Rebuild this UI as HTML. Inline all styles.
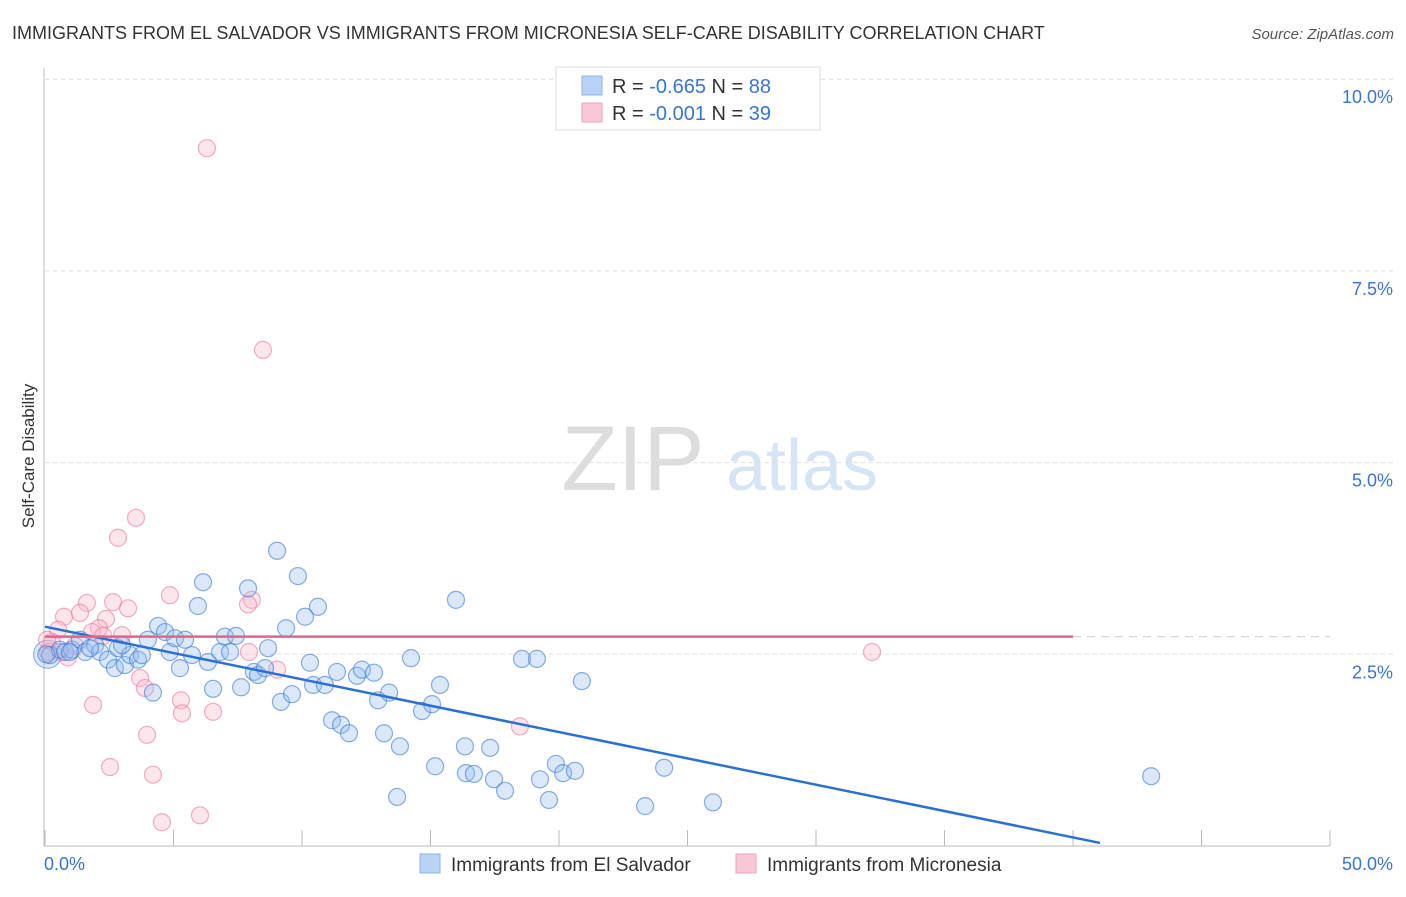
<!DOCTYPE html>
<html><head><meta charset="utf-8"><style>
body{margin:0;background:#fff;font-family:"Liberation Sans",sans-serif;}
svg text{font-family:"Liberation Sans",sans-serif;}
</style></head><body>
<svg id="chart" width="1406" height="892" xmlns="http://www.w3.org/2000/svg">
<text x="12" y="39" font-size="18" fill="#333">IMMIGRANTS FROM EL SALVADOR VS IMMIGRANTS FROM MICRONESIA SELF-CARE DISABILITY CORRELATION CHART</text>
<text x="1394" y="39" font-size="15" fill="#555" font-style="italic" text-anchor="end">Source: ZipAtlas.com</text>
<g>
<text x="633" y="490" font-size="92" fill="#ddd" font-family="Liberation Serif" text-anchor="middle">ZIP</text>
<text x="802" y="490" font-size="72" fill="#d6e4f5" text-anchor="middle">atlas</text>
</g>
<g id="grid"></g>
<g id="axes"></g>
<g id="marks"></g>
<text transform="translate(34,456) rotate(-90)" font-size="17" fill="#333" text-anchor="middle">Self-Care Disability</text>
<g>
<rect x="556" y="67" width="264" height="63" fill="#fff" stroke="#ddd"/>
<rect x="582" y="76" width="20" height="19" fill="#b8d3f5" stroke="#8ab3e8"/>
<text x="612" y="93" font-size="20" fill="#333">R = <tspan fill="#3a74d0">-0.665</tspan>   N = <tspan fill="#3a74d0">88</tspan></text>
<rect x="582" y="103" width="20" height="19" fill="#f9c8d6" stroke="#eea3b9"/>
<text x="612" y="120" font-size="20" fill="#333">R = <tspan fill="#3a74d0">-0.001</tspan>   N = <tspan fill="#3a74d0">39</tspan></text>
</g>
<g>
<rect x="420" y="854" width="20" height="19" fill="#b8d3f5" stroke="#8ab3e8"/>
<text x="451" y="871" font-size="19" fill="#333">Immigrants from El Salvador</text>
<rect x="736" y="854" width="20" height="19" fill="#f9c8d6" stroke="#eea3b9"/>
<text x="767" y="871" font-size="19" fill="#333">Immigrants from Micronesia</text>
</g>
</svg>
<script>
const yTicks=[2.5,5,7.5,10];
const yTickLabels=["2.5%","5.0%","7.5%","10.0%"];
const xTicks=[0,5,10,15,20,25,30,35,40,45,50];
const blueX=[0.19,0.58,0.78,1.05,1.36,1.56,1.95,2.14,2.45,2.84,2.72,3.11,3.31,3.62,3.77,4.0,4.2,4.4,4.67,4.86,5.06,5.25,5.45,5.72,5.95,6.15,6.34,6.54,6.81,7.0,7.2,7.43,7.63,7.9,8.13,8.29,8.56,8.68,9.03,9.18,9.38,9.61,9.84,10.12,10.31,10.43,10.62,10.89,11.17,11.52,11.83,11.36,12.14,12.33,12.8,12.96,13.19,13.39,13.7,13.81,14.24,14.67,15.06,15.18,15.37,15.99,16.34,16.38,16.69,17.32,17.47,17.9,18.56,19.14,19.26,19.61,19.88,20.16,20.62,20.89,23.35,24.09,25.99,43.04,0.05,0.97,1.75,3.0];
const blueY=[2.49,2.56,2.53,2.56,2.69,2.53,2.62,2.53,2.43,2.58,2.32,2.36,2.49,2.43,2.49,2.69,2.0,2.87,2.79,2.53,2.71,2.32,2.69,2.49,3.13,3.44,2.4,2.05,2.53,2.73,2.53,2.74,2.07,3.36,2.27,2.23,2.32,2.58,3.85,1.88,2.84,1.98,3.52,2.99,2.39,2.1,3.12,2.1,1.64,1.58,1.47,2.27,2.22,2.3,2.26,1.9,1.47,2.0,0.64,1.3,2.45,1.76,1.85,1.04,2.1,3.21,1.3,0.95,0.94,1.28,0.87,0.72,2.44,2.44,0.87,0.6,1.07,0.95,0.98,2.15,0.52,1.02,0.57,0.91,2.5,2.53,2.58,2.62];
const pinkX=[6.3,8.48,3.54,2.84,4.86,2.65,8.05,1.63,0.74,1.36,2.37,3.23,2.1,1.83,3.0,0.51,0.27,0.89,0.12,0.08,2.26,3.7,3.89,5.29,5.33,6.54,1.87,3.97,2.53,4.2,4.55,6.03,7.94,9.03,18.48,32.18,1.17,0.58,7.9];
const pinkY=[9.1,6.47,4.28,4.02,3.27,3.18,3.21,3.17,2.99,3.04,2.96,3.1,2.84,2.79,2.75,2.82,2.66,2.46,2.53,2.69,2.74,2.19,2.06,1.9,1.73,1.75,1.84,1.45,1.03,0.93,0.31,0.4,2.53,2.3,1.56,2.53,2.61,2.53,3.15];
const blueTrend=[0,2.86,41.05,0.04];
const pinkTrend=[0,2.73,40,2.73];
const NS="http://www.w3.org/2000/svg";
const X0=45,XS=25.7,Y0=846,YS=76.68;
function sx(v){return X0+v*XS;}
function sy(v){return Y0-v*YS;}
function mk(tag,attrs,parent){const e=document.createElementNS(NS,tag);for(const k in attrs)e.setAttribute(k,attrs[k]);parent.appendChild(e);return e;}
const grid=document.getElementById('grid'),axes=document.getElementById('axes'),marks=document.getElementById('marks');
yTicks.forEach((t,i)=>{
 const l=mk('line',{x1:45,x2:1393,y1:sy(t),y2:sy(t),stroke:'#ddd','stroke-dasharray':'4,4'},grid);
 
 
 const tx=mk('text',{x:1393,y:sy(t)+24,'font-size':18,fill:'#3a74d0','text-anchor':'end'},axes);
 tx.textContent=yTickLabels[i];
 
 
});
const ya=mk('line',{x1:44,x2:44,y1:68,y2:846,stroke:'#bbb'},axes);


const xa=mk('line',{x1:44,x2:1330,y1:846,y2:846,stroke:'#bbb'},axes);


xTicks.forEach(t=>{
 const l=mk('line',{x1:sx(t),x2:sx(t),y1:830,y2:846,stroke:'#bbb'},axes);
 
 
});
const xl0=mk('text',{x:44,y:870,'font-size':18,fill:'#3a74d0'},axes);xl0.textContent='0.0%';


const xl1=mk('text',{x:1393,y:870,'font-size':18,fill:'#3a74d0','text-anchor':'end'},axes);xl1.textContent='50.0%';


mk('circle',{cx:sx(0.1),cy:sy(2.5),r:14,fill:'rgba(150,185,235,0.35)',stroke:'rgba(60,120,210,0.6)'},marks);
pinkX.forEach((x,i)=>{
 const c=mk('circle',{cx:sx(x),cy:sy(pinkY[i]),r:8.5,fill:'rgba(248,180,200,0.35)',stroke:'rgba(235,120,155,0.6)','stroke-width':1.2},marks);
 
 
});
blueX.forEach((x,i)=>{
 const c=mk('circle',{cx:sx(x),cy:sy(blueY[i]),r:8.5,fill:'rgba(150,190,240,0.35)',stroke:'rgba(60,120,210,0.6)','stroke-width':1.2},marks);
 
 
});
const bt=mk('line',{x1:sx(blueTrend[0]),y1:sy(blueTrend[1]),x2:sx(blueTrend[2]),y2:sy(blueTrend[3]),stroke:'#2a6fd6','stroke-width':2.5},marks);


const pt=mk('line',{x1:sx(pinkTrend[0]),y1:sy(pinkTrend[1]),x2:sx(pinkTrend[2]),y2:sy(pinkTrend[3]),stroke:'#e8608a','stroke-width':2.5},marks);


const pd=mk('line',{x1:sx(pinkTrend[2]),y1:sy(pinkTrend[3]),x2:1330,y2:sy(pinkTrend[3]),stroke:'#ccc','stroke-dasharray':'8,6'},marks);


</script>
</body></html>
